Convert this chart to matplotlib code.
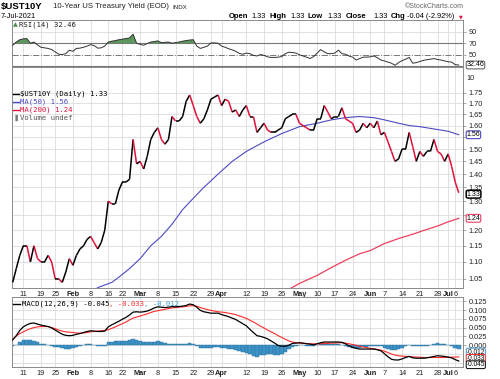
import numpy as np
import pandas as pd
import matplotlib
matplotlib.use('Agg')
import matplotlib.pyplot as plt
from matplotlib.collections import LineCollection
from matplotlib.ticker import FixedLocator, NullLocator, FixedFormatter

# Trading days shown (bond market holidays removed)
holidays = ['2021-01-18', '2021-02-15', '2021-05-31', '2021-07-05']
dates = pd.bdate_range('2021-01-06', '2021-07-07')
dates = dates[~dates.isin(pd.to_datetime(holidays))]

# $UST10Y daily close, one block per month
close = [1.04, 1.08, 1.12, 1.15, 1.15, 1.10, 1.15, 1.11, 1.10, 1.10, 1.12, 1.10, 1.05, 1.05, 1.04, 1.07, 1.11,
         1.09, 1.12, 1.14, 1.15, 1.17, 1.18, 1.16, 1.14, 1.16, 1.20, 1.30, 1.29, 1.29, 1.34, 1.37, 1.37, 1.38, 1.54, 1.44,
         1.45, 1.42, 1.47, 1.54, 1.57, 1.59, 1.54, 1.52, 1.54, 1.64, 1.62, 1.62, 1.64, 1.71, 1.74, 1.69, 1.64, 1.61, 1.63,
         1.67, 1.72, 1.73, 1.74,
         1.69, 1.72, 1.71, 1.66, 1.67, 1.64, 1.67, 1.69, 1.64, 1.64, 1.57, 1.59, 1.61, 1.58, 1.57, 1.57, 1.58, 1.59, 1.63,
         1.64, 1.65, 1.65,
         1.61, 1.60, 1.59, 1.58, 1.58, 1.63, 1.63, 1.69, 1.66, 1.63, 1.64, 1.64, 1.68, 1.63, 1.62, 1.61, 1.57, 1.58, 1.61, 1.59,
         1.61, 1.59, 1.62, 1.56, 1.57, 1.53, 1.49, 1.45, 1.46, 1.50, 1.50, 1.57, 1.51, 1.45, 1.49, 1.47, 1.49, 1.49, 1.54,
         1.49, 1.48, 1.45,
         1.48, 1.43, 1.37, 1.33]

rsi = [66.5, 72, 76, 77.5, 78, 70, 72, 67, 63, 62, 61, 59, 55, 51, 50.5, 52, 58,
       56, 61, 61.5, 63, 65, 67.5, 66, 61.5, 62, 65, 72, 73.5, 74.5, 76, 77, 78, 79, 85.5, 70,
       68, 66.5, 69.5, 72, 73, 74, 71, 71.5, 72, 70, 71, 72, 73.5, 74.5, 75.5, 76, 65, 61, 63, 65, 70.5, 70.5, 70,
       65, 63, 60.5, 58.5, 56, 52.5, 51, 53, 52, 49, 48, 50.5, 49, 46.5, 45.5, 45.5, 46, 47, 52, 54.5, 54, 53,
       50, 48, 46, 43.6, 47, 53, 59, 55, 52, 52, 53, 58, 52, 51, 48, 46, 41, 43.6, 46, 46,
       46.5, 48, 45, 41, 39.5, 37.5, 35.5, 32, 36.5, 40, 42.5, 45.5, 35.5, 36.5, 38.5, 40.5, 41.5, 42.5, 43.5, 42, 41, 39.5,
       38, 37.5, 33, 32.46]

ma50_dates = ['2021-02-09', '2021-02-10', '2021-02-17', '2021-02-19', '2021-02-24', '2021-03-01', '2021-03-04',
              '2021-03-09', '2021-03-12', '2021-03-17', '2021-03-22', '2021-03-25', '2021-03-31', '2021-04-06',
              '2021-04-12', '2021-04-19', '2021-04-26', '2021-05-03', '2021-05-10', '2021-05-14', '2021-05-20',
              '2021-05-26', '2021-06-02', '2021-06-07', '2021-06-11', '2021-06-16', '2021-06-21', '2021-06-25',
              '2021-07-01', '2021-07-07']
ma50_vals = [1.015, 1.025, 1.04, 1.055, 1.08, 1.11, 1.15, 1.18, 1.22, 1.27, 1.31, 1.35, 1.40, 1.45, 1.49, 1.53,
             1.565, 1.595, 1.61, 1.625, 1.635, 1.64, 1.635, 1.625, 1.61, 1.60, 1.595, 1.585, 1.575, 1.56]

ma200_dates = ['2021-04-28', '2021-05-03', '2021-05-10', '2021-05-14', '2021-05-20', '2021-05-26', '2021-06-01',
               '2021-06-07', '2021-06-11', '2021-06-17', '2021-06-22', '2021-06-28', '2021-07-01', '2021-07-07']
ma200_vals = [1.02, 1.037, 1.06, 1.083, 1.105, 1.125, 1.135, 1.157, 1.173, 1.187, 1.199, 1.214, 1.228, 1.24]

macd = [0.015, 0.027, 0.042, 0.052, 0.058, 0.062, 0.063, 0.060, 0.057, 0.055, 0.053, 0.049, 0.043, 0.037, 0.031, 0.028, 0.027,
        0.028, 0.031, 0.033, 0.036, 0.039, 0.041, 0.040, 0.039, 0.039, 0.040, 0.052, 0.058, 0.063, 0.068, 0.074, 0.079, 0.086, 0.094, 0.095,
        0.094, 0.095, 0.097, 0.101, 0.106, 0.109, 0.108, 0.107, 0.108, 0.110, 0.109, 0.110, 0.111, 0.113, 0.117, 0.115, 0.108, 0.099,
        0.095, 0.093, 0.091, 0.091, 0.091,
        0.087, 0.084, 0.081, 0.077, 0.073, 0.067, 0.061, 0.055, 0.045, 0.036, 0.027, 0.025, 0.022, 0.018, 0.012, 0.006, -0.001,
        -0.003, -0.003, 0.000, 0.005, 0.006,
        0.007, 0.006, 0.004, 0.003, 0.001, 0.004, 0.007, 0.009, 0.009, 0.009, 0.009, 0.009, 0.008, 0.004, -0.002, -0.006, -0.009,
        -0.011, -0.011, -0.011,
        -0.011, -0.011, -0.013, -0.016, -0.024, -0.033, -0.040, -0.042, -0.042, -0.039, -0.035, -0.032, -0.036, -0.037, -0.037,
        -0.037, -0.036, -0.034, -0.032, -0.030, -0.031, -0.032,
        -0.034, -0.036, -0.041, -0.045]

signal = [0.017, 0.026, 0.033, 0.038, 0.043, 0.047, 0.050, 0.052, 0.053, 0.053, 0.053, 0.050, 0.047, 0.043, 0.040, 0.038, 0.037,
          0.036, 0.035, 0.034, 0.035, 0.036, 0.038, 0.039, 0.040, 0.041, 0.042, 0.044, 0.048, 0.052, 0.057, 0.061, 0.066, 0.072, 0.077, 0.080,
          0.083, 0.086, 0.089, 0.093, 0.096, 0.098, 0.100, 0.102, 0.104, 0.106, 0.107, 0.108, 0.109, 0.110, 0.112, 0.112, 0.111, 0.107,
          0.104, 0.101, 0.099, 0.097, 0.095,
          0.094, 0.093, 0.091, 0.089, 0.087, 0.083, 0.080, 0.076, 0.071, 0.066, 0.060, 0.054, 0.049, 0.043, 0.038, 0.033, 0.027,
          0.022, 0.017, 0.012, 0.009, 0.007,
          0.006, 0.005, 0.005, 0.004, 0.004, 0.004, 0.004, 0.005, 0.005, 0.006, 0.006, 0.007, 0.007, 0.006, 0.004, 0.002, 0.000,
          -0.003, -0.005, -0.007,
          -0.009, -0.010, -0.012, -0.014, -0.017, -0.021, -0.025, -0.028, -0.030, -0.031, -0.032, -0.032, -0.033, -0.034, -0.034,
          -0.035, -0.035, -0.035, -0.035, -0.035, -0.035, -0.035,
          -0.034, -0.034, -0.034, -0.033]

hist = [-0.002, 0.001, 0.009, 0.014, 0.015, 0.015, 0.013, 0.008, 0.004, 0.002, 0.000, -0.001, -0.004, -0.006, -0.009, -0.010, -0.010,
        -0.008, -0.004, -0.001, 0.001, 0.003, 0.003, 0.001, -0.001, -0.002, -0.002, 0.008, 0.010, 0.011, 0.011, 0.013, 0.013, 0.014,
        0.017, 0.015,
        0.011, 0.009, 0.008, 0.008, 0.010, 0.011, 0.008, 0.005, 0.004, 0.004, 0.002, 0.002, 0.002, 0.003, 0.005, 0.003, -0.003,
        -0.008, -0.009, -0.008, -0.008, -0.006, -0.004,
        -0.007, -0.009, -0.010, -0.012, -0.014, -0.016, -0.019, -0.021, -0.026, -0.030, -0.033, -0.029, -0.027, -0.025, -0.026,
        -0.027, -0.028, -0.025, -0.020, -0.012, -0.004, -0.001,
        0.001, 0.001, -0.001, -0.001, -0.003, 0.000, 0.003, 0.004, 0.004, 0.003, 0.003, 0.002, 0.001, -0.002, -0.006, -0.008,
        -0.009, -0.008, -0.006, -0.004,
        -0.002, -0.001, -0.001, -0.002, -0.007, -0.012, -0.015, -0.014, -0.012, -0.008, -0.003, 0.000, -0.003, -0.003, -0.003,
        -0.002, -0.001, 0.001, 0.003, 0.005, 0.004, 0.003,
        0.000, -0.002, -0.007, -0.012]

tick_dates = ['2021-01-11', '2021-01-19', '2021-01-25', '2021-02-01', '2021-02-08', '2021-02-16', '2021-02-22',
              '2021-03-01', '2021-03-08', '2021-03-15', '2021-03-22', '2021-03-29', '2021-04-01', '2021-04-12',
              '2021-04-19', '2021-04-26', '2021-05-03', '2021-05-10', '2021-05-17', '2021-05-24', '2021-06-01',
              '2021-06-07', '2021-06-14', '2021-06-21', '2021-06-28', '2021-07-01', '2021-07-06']
tick_labels = ['11', '19', '25', 'Feb', '8', '16', '22', 'Mar', '8', '15', '22', '29', 'Apr', '12', '19', '26',
               'May', '10', '17', '24', 'Jun', '7', '14', '21', '28', 'Jul', '6']
price_ticks = [1.05, 1.10, 1.15, 1.20, 1.25, 1.30, 1.35, 1.40, 1.45, 1.50, 1.55, 1.60, 1.65, 1.70, 1.75]
price_hidden = [1.25, 1.55]   # labels covered by the MA value tags
macd_ticks = [0.0, 0.025, 0.05, 0.075, 0.1, 0.125]


def day(s):
    return dates.get_loc(pd.Timestamp(s))


W, H = 500, 379
GRID = '#dcdcdc'
FRAME = '#8a8a8a'
DOWN = '#e0103a'
MA50C = '#4a4ac4'
MA200C = '#ea4060'
HISTC = '#3e93c6'
SANS = 'Liberation Sans'
MONO = 'DejaVu Sans Mono'


def box(l, t, r, b):
    return [l / W, 1 - b / H, (r - l) / W, (b - t) / H]


def ftext(x, y, s, **kw):
    kw.setdefault('va', 'center')
    kw.setdefault('family', SANS)
    fig.text(x / W, 1 - y / H, s, **kw)


def tag(a, val, s, ec, lw=0.7, size=5.0):
    a.text(1.008, val, s, transform=a.get_yaxis_transform(), fontsize=size, family=SANS, va='center',
           clip_on=False, zorder=5,
           bbox=dict(boxstyle='round,pad=0.06,rounding_size=0.25', fc='white', ec=ec, lw=lw))


fig = plt.figure(figsize=(5.0, 3.79), dpi=100)
ax_r = fig.add_axes(box(12, 20, 463, 67))
ax = fig.add_axes(box(12, 67, 463, 288))
ax_m = fig.add_axes(box(12, 297, 463, 367))

x = np.arange(len(dates))
xt = [day(d) for d in tick_dates]

for a in (ax_r, ax, ax_m):
    a.set_xlim(-0.2, len(dates) + 0.2)
    for s in a.spines.values():
        s.set_color(FRAME)
        s.set_linewidth(0.7)
    for v in xt:
        a.axvline(v, color=GRID, lw=0.6, zorder=0)
    a.yaxis.tick_right()
    a.tick_params(axis='y', length=2, width=0.5, color=FRAME, pad=2, labelsize=5.3)
    a.tick_params(axis='x', length=0, pad=2, labelsize=5.3)
    a.set_xticks(xt)
    a.set_xticklabels(tick_labels)
    for lab in a.get_xticklabels():
        lab.set_family(SANS)
        lab.set_color('#222222')
    for lab, t in zip(a.get_xticklabels(), tick_labels):
        if not t.isdigit():
            lab.set_fontweight('bold')
ax_r.tick_params(axis='x', labelbottom=False)

# RSI panel
r = np.array(rsi)
ax_r.set_ylim(29, 110)
ax_r.set_yticks([50, 70, 90])
for lab in ax_r.get_yticklabels():
    lab.set_family(SANS)
    lab.set_color('#222222')
ax_r.axhline(90, color=GRID, lw=0.6, zorder=0)
ax_r.axhline(70, color='#777777', lw=0.8, zorder=1)
ax_r.axhline(50, color='#777777', lw=0.7, ls='-.', zorder=1)
ax_r.axhline(30, color='#777777', lw=0.8, zorder=1)
ax_r.fill_between(x, r, 70, where=r > 70, interpolate=True, color='#5d975d', lw=0, zorder=2)
ax_r.plot(x, r, color='#333333', lw=0.7, zorder=3)
ax_r.text(1.008, 10, '10', transform=ax_r.get_yaxis_transform(), fontsize=5.3, family=SANS,
          va='center', clip_on=False, color='#222222')
tag(ax_r, rsi[-1], '%.2f' % rsi[-1], '#555555')

# Price panel
ax.set_yscale('log')
ax.set_ylim(1.024, 1.879)
ax.yaxis.set_major_locator(FixedLocator(price_ticks))
ax.yaxis.set_minor_locator(NullLocator())
ax.yaxis.set_major_formatter(FixedFormatter(['' if v in price_hidden else '%.2f' % v for v in price_ticks]))
for lab in ax.get_yticklabels():
    lab.set_family(SANS)
    lab.set_color('#222222')
for v in price_ticks:
    ax.axhline(v, color=GRID, lw=0.6, zorder=0)
ax.plot([day(d) for d in ma50_dates], ma50_vals, color=MA50C, lw=0.8, zorder=2)
ax.plot([day(d) for d in ma200_dates], ma200_vals, color=MA200C, lw=0.9, zorder=2)
pts = np.column_stack([x, close])
segs = np.stack([pts[:-1], pts[1:]], axis=1)
cols = ['black' if b >= a else DOWN for a, b in zip(close[:-1], close[1:])]
ax.add_collection(LineCollection(segs, colors=cols, linewidths=1.1, zorder=3))
tag(ax, ma50_vals[-1], '%.2f' % ma50_vals[-1], MA50C, 0.8)
tag(ax, 1.325, '%.2f' % close[-1], 'black', 1.1)
tag(ax, ma200_vals[-1], '%.2f' % ma200_vals[-1], MA200C, 0.8)

# MACD panel
ax_m.set_ylim(-0.062, 0.137)
ax_m.set_yticks(macd_ticks)
ax_m.set_yticklabels(['%.3f' % v for v in macd_ticks])
for lab in ax_m.get_yticklabels():
    lab.set_family(SANS)
    lab.set_color('#222222')
for v in macd_ticks + [-0.025, -0.05]:
    ax_m.axhline(v, color=GRID, lw=0.6, zorder=0)
ax_m.bar(x, hist, width=1.0, color=HISTC, edgecolor='#2a6f9c', linewidth=0.3, zorder=2)
ax_m.plot(x, signal, color='#ff2a2a', lw=0.8, zorder=3)
ax_m.plot(x, macd, color='black', lw=0.9, zorder=4)
# value tags stack downward below the zero line, as in the source chart
tag(ax_m, -0.0195, '%.3f' % hist[-1], HISTC, size=4.7)
tag(ax_m, -0.0375, '%.3f' % signal[-1], '#ff2a2a', size=4.7)
tag(ax_m, -0.0555, '%.3f' % macd[-1], 'black', size=4.7)

# Header
ftext(1, 7, '$UST10Y', fontsize=6.8, fontweight='bold')
ftext(53, 7, '10-Year US Treasury Yield (EOD)', fontsize=5.6, color='#222222')
ftext(172, 7.5, 'INDX', fontsize=4.4, color='#222222')
ftext(464, 6, '\u00a9StockCharts.com', fontsize=5.0, color='#666666', ha='right')
ftext(1, 16, '7-Jul-2021', fontsize=5.3)
for xp, s, bold in ((229, 'Open', True), (251, '1.33', False), (269, 'High', True), (290, '1.33', False),
                    (308, 'Low', True), (327, '1.33', False), (346, 'Close', True), (373, '1.33', False),
                    (391, 'Chg', True), (407, '-0.04 (-2.92%)', False)):
    ftext(xp, 16, s, fontsize=5.5 if bold else 5.3, fontweight='bold' if bold else 'normal')
ftext(459, 17, '\u25bc', fontsize=3.5, color=DOWN, family='DejaVu Sans')

# Panel legends
cw = 0.602 * 5.2 * 100 / 72
ftext(13, 25, '\u25b2', fontsize=4.5, color='#4e8a4e', family='DejaVu Sans')
ftext(19, 25, 'RSI(14) %.2f' % rsi[-1], fontsize=5.2, family=MONO, color='#222222')

legend_rows = [('$UST10Y (Daily) %.2f' % close[-1], 'black'),
               ('MA(50) %.2f' % ma50_vals[-1], MA50C),
               ('MA(200) %.2f' % ma200_vals[-1], DOWN)]
for k, (s, c) in enumerate(legend_rows):
    yy = 94 + 7.8 * k
    fig.add_artist(plt.Line2D([13 / W, 19 / W], [1 - yy / H] * 2, color=c, lw=1.0))
    ftext(20, yy, s, fontsize=5.2, family=MONO, color=c)
ftext(13, 117.5, '\u2590', fontsize=4.5, color='#777777', family='DejaVu Sans')
ftext(20, 117.5, 'Volume undef', fontsize=5.2, family=MONO, color='#555555')

fig.add_artist(plt.Line2D([13 / W, 20 / W], [1 - 304 / H] * 2, color='black', lw=1.0))
parts = [('MACD(12,26,9) %.3f' % macd[-1], 'black'), (', %.3f' % signal[-1], '#ff2a2a'),
         (', %.3f' % hist[-1], '#3399cc')]
xp = 22
for s, c in parts:
    ftext(xp, 304, s, fontsize=5.2, family=MONO, color=c)
    xp += len(s) * cw

fig.savefig('out.png', dpi=100, facecolor='white')
